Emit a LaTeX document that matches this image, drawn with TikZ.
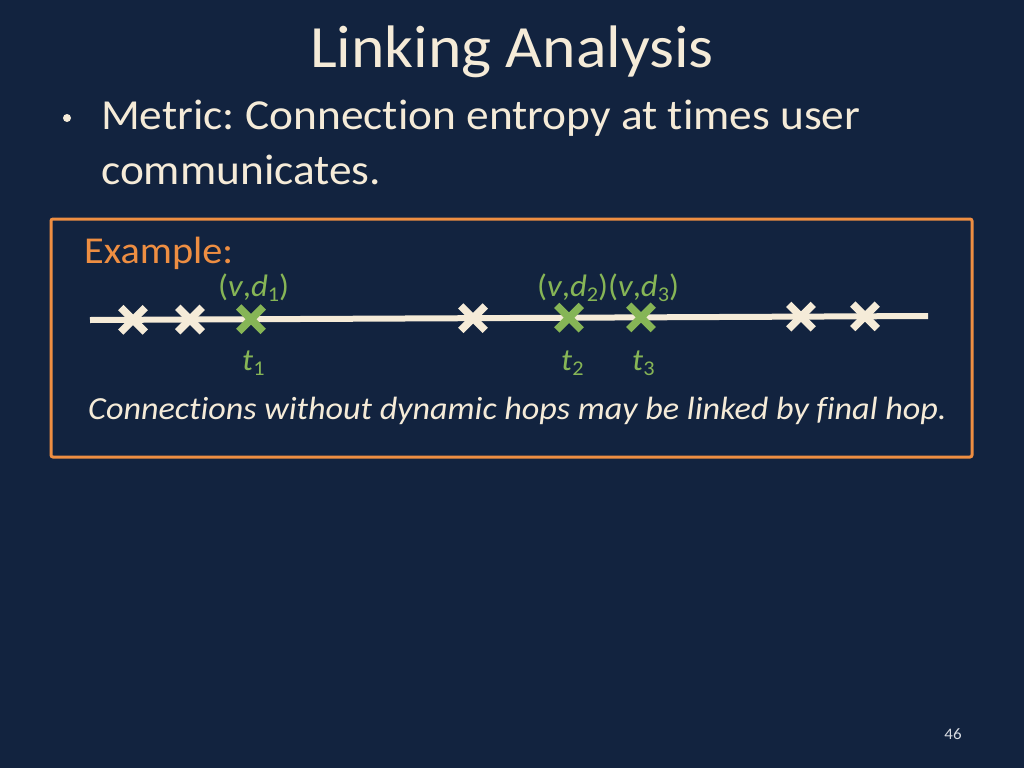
\documentclass[tikz,border=0pt]{standalone}
\usepackage{fontspec}
\setmainfont{Carlito}[FakeStretch=1.06, Ligatures=NoCommon]
\usetikzlibrary{shapes.misc}
\definecolor{bg}{HTML}{12233F}
\definecolor{cream}{HTML}{F5EBD8}
\definecolor{orng}{HTML}{EE8E42}
\definecolor{grn}{HTML}{86B556}
\definecolor{pgnum}{HTML}{D8DCE2}
\frenchspacing
\newcommand{\sbs}[1]{\raisebox{-0.35ex}{\fontsize{21}{24}\selectfont #1}}
\tikzset{
  mark/.style={draw=#1, cross out, line width=7.5pt, minimum size=17pt, inner sep=0pt},
  lbl/.style={text=grn, font=\fontsize{31}{36}\selectfont, inner sep=0pt},
}
\begin{document}
\begin{tikzpicture}[x=1pt,y=-1pt]
\fill[bg] (0,0) rectangle (1024,768);
\useasboundingbox (0,0) rectangle (1024,768);
% title
\node[anchor=base, text=cream, font=\fontsize{60}{70}\selectfont, inner sep=0pt] (title) at (512,67) {Linking Analysis};
% bullet
\node[anchor=base west, text=cream, font=\fontsize{42.8}{48}\selectfont, inner sep=0pt] (b1) at (101,129) {Metric: Connection entropy at times user};
\node[anchor=base west, text=cream, font=\fontsize{42.8}{48}\selectfont, inner sep=0pt] (b2) at (101,184) {communicates.};
\fill[cream] (67,118) circle (4);
% box
\draw[orng, line width=3pt, rounded corners=2pt] (51,219) rectangle (972,457);
\node[anchor=base west, text=orng, font=\fontsize{38}{44}\selectfont, inner sep=0pt] (ex) at (84,263) {Example:};
% timeline
\coordinate (L) at (90,320);
\coordinate (R) at (928,316);
\draw[cream, line width=6pt] (L) -- (R);
\node[mark=cream] (c1) at (133,319.8) {};
\node[mark=cream] (c2) at (190,319.5) {};
\node[mark=grn]   (g1) at (251,319.2) {};
\node[mark=cream] (c3) at (473,318.2) {};
\node[mark=grn]   (g2) at (569,317.7) {};
\node[mark=grn]   (g3) at (641,317.4) {};
\node[mark=cream] (c4) at (801,316.6) {};
\node[mark=cream] (c5) at (865,316.3) {};
% labels
\node[lbl, anchor=base west] (l1) at (218,296) {(\textit{v},\textit{d}\sbs{1})};
\node[lbl, anchor=base west] (l2) at (537,296) {(\textit{v},\textit{d}\sbs{2})(\textit{v},\textit{d}\sbs{3})};
\node[lbl, anchor=base west] (t1) at (242,370) {\textit{t}\sbs{1}};
\node[lbl, anchor=base west] (t2) at (561,370) {\textit{t}\sbs{2}};
\node[lbl, anchor=base west] (t3) at (632,370) {\textit{t}\sbs{3}};
\node[anchor=base west, text=cream, font=\fontsize{32.2}{36}\selectfont\itshape, inner sep=0pt] (cap) at (88,419) {Connections without dynamic hops may be linked by final hop.};
\node[anchor=base, text=pgnum, font=\fontsize{16}{19}\selectfont, inner sep=0pt] (pg) at (953,739) {46};
\end{tikzpicture}
\end{document}
